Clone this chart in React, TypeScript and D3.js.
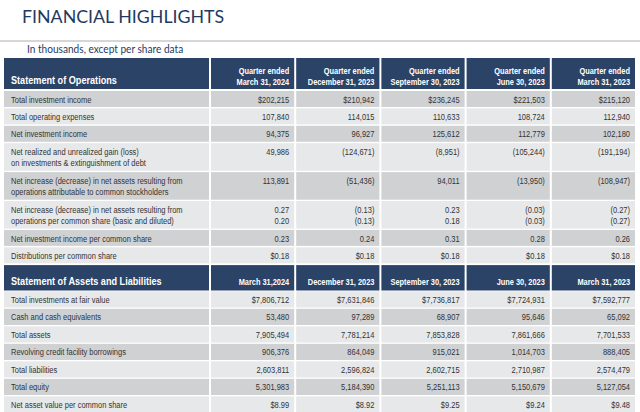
import React from "react";
import * as d3 from "d3";

const title = "FINANCIAL HIGHLIGHTS";
const subtitle = "In thousands, except per share data";

const opsHeader = "Statement of Operations";
const opsPeriods = ["March 31, 2024", "December 31, 2023", "September 30, 2023", "June 30, 2023", "March 31, 2023"];
const opsLabels: string[][] = [
  ["Total investment income"],
  ["Total operating expenses"],
  ["Net investment income"],
  ["Net realized and unrealized gain (loss)", "on investments & extinguishment of debt"],
  ["Net increase (decrease) in net assets resulting from", "operations attributable to common stockholders"],
  ["Net increase (decrease) in net assets resulting from", "operations per common share (basic and diluted)"],
  ["Net investment income per common share"],
  ["Distributions per common share"],
];
const opsValues: string[][][] = [
  [["$202,215"], ["$210,942"], ["$236,245"], ["$221,503"], ["$215,120"]],
  [["107,840"], ["114,015"], ["110,633"], ["108,724"], ["112,940"]],
  [["94,375"], ["96,927"], ["125,612"], ["112,779"], ["102,180"]],
  [["49,986"], ["(124,671)"], ["(8,951)"], ["(105,244)"], ["(191,194)"]],
  [["113,891"], ["(51,436)"], ["94,011"], ["(13,950)"], ["(108,947)"]],
  [["0.27", "0.20"], ["(0.13)", "(0.13)"], ["0.23", "0.18"], ["(0.03)", "(0.03)"], ["(0.27)", "(0.27)"]],
  [["0.23"], ["0.24"], ["0.31"], ["0.28"], ["0.26"]],
  [["$0.18"], ["$0.18"], ["$0.18"], ["$0.18"], ["$0.18"]],
];

const bsHeader = "Statement of Assets and Liabilities";
const bsPeriods = ["March 31,2024", "December 31, 2023", "September 30, 2023", "June 30, 2023", "March 31, 2023"];
const bsLabels: string[] = [
  "Total investments at fair value",
  "Cash and cash equivalents",
  "Total assets",
  "Revolving credit facility borrowings",
  "Total liabilities",
  "Total equity",
  "Net asset value per common share",
];
const bsValues: string[][] = [
  ["$7,806,712", "$7,631,846", "$7,736,817", "$7,724,931", "$7,592,777"],
  ["53,480", "97,289", "68,907", "95,646", "65,092"],
  ["7,905,494", "7,781,214", "7,853,828", "7,861,666", "7,701,533"],
  ["906,376", "864,049", "915,021", "1,014,703", "888,405"],
  ["2,603,811", "2,596,824", "2,602,715", "2,710,987", "2,574,479"],
  ["5,301,983", "5,184,390", "5,251,113", "5,150,679", "5,127,054"],
  ["$8.99", "$8.92", "$9.25", "$9.24", "$9.48"],
];

const W = 640;
const H = 412;
const NAVY = "#2b4366";
const DARK = "#d0d1d3";
const LIGHT = "#e7e8e9";
const TEXT = "#333333";
const FONT = "'Liberation Sans', Arial, sans-serif";
const TITLE_FONT = "Lato, 'Open Sans', sans-serif";

type TProps = {
  x: number;
  y: number;
  sx: number;
  size: number;
  anchor?: "start" | "end";
  bold?: boolean;
  fill: string;
  family?: string;
  children: React.ReactNode;
};

function T({ x, y, sx, size, anchor = "start", bold, fill, family = FONT, children }: TProps) {
  return (
    <text
      transform={`translate(${x},${y}) scale(${sx},1)`}
      fontSize={size}
      fontFamily={family}
      fontWeight={bold ? "bold" : "normal"}
      fill={fill}
      textAnchor={anchor}
    >
      {children}
    </text>
  );
}

export default function App() {
  const labelLeft = 4;
  const labelRight = 210;
  const tableRight = 636;
  const dataX = d3.scaleBand<number>().domain(d3.range(5)).range([labelRight, tableRight]).paddingInner(0);
  const colW = dataX.bandwidth();

  const singleH = 16;
  const singlePitch = 17.4;
  const doubleH = 27.6;
  const doublePitch = 28.9;
  const lineGap = 11.4;

  const BODY = 9.5;
  const BSX = 0.79;

  type Row = { y: number; h: number; kind: string; idx: number; shade: string };
  const rows: Row[] = [];
  let y = 58;
  const header1 = { y, h: 31 };
  y += 33;
  opsLabels.forEach((lab, i) => {
    const dbl = lab.length > 1;
    rows.push({ y, h: dbl ? doubleH : singleH, kind: "ops", idx: i, shade: i % 2 === 0 ? DARK : LIGHT });
    y += dbl ? doublePitch : singlePitch;
  });
  y += 0.4;
  const header2 = { y, h: 25.4 };
  y += 26.2;
  bsLabels.forEach((_, i) => {
    rows.push({ y, h: singleH + 0.2, kind: "bs", idx: i, shade: i % 2 === 0 ? LIGHT : DARK });
    y += 17.5;
  });

  const cellRects = (top: number, h: number, fill: string, key: string) => (
    <g key={key}>
      <rect x={labelLeft} y={top} width={labelRight - labelLeft - 1} height={h} fill={fill} />
      {d3.range(5).map((c) => (
        <rect key={c} x={(dataX(c) as number) + 1} y={top} width={colW - 2} height={h} fill={fill} />
      ))}
    </g>
  );

  const textRight = (c: number) => (dataX(c) as number) + colW - 6;

  return (
    <svg width={W} height={H} style={{ position: "absolute", left: 0, top: 0 }} fontFamily={FONT}>
      <rect x={0} y={0} width={W} height={H} fill="#ffffff" />
      <T x={22} y={23} sx={1} size={17.8} family={TITLE_FONT} fill="#1f3a5f">{title}</T>
      <rect x={0} y={40} width={W} height={2} fill="#d6d6d6" />
      <T x={27} y={53} sx={0.92} size={11} family={TITLE_FONT} fill="#1f3a5f">{subtitle}</T>

      {cellRects(header1.y, header1.h, NAVY, "h1")}
      <T x={11} y={84} sx={0.83} size={11} bold fill="#ffffff">{opsHeader}</T>
      {opsPeriods.map((p, c) => (
        <g key={"hp" + c}>
          <T x={textRight(c)} y={74} sx={0.78} size={BODY} bold fill="#ffffff" anchor="end">Quarter ended</T>
          <T x={textRight(c)} y={85} sx={0.78} size={BODY} bold fill="#ffffff" anchor="end">{p}</T>
        </g>
      ))}

      {cellRects(header2.y, header2.h, NAVY, "h2")}
      <T x={11} y={header2.y + 20} sx={0.83} size={11} bold fill="#ffffff">{bsHeader}</T>
      {bsPeriods.map((p, c) => (
        <T key={"bp" + c} x={textRight(c)} y={header2.y + 20} sx={0.78} size={BODY} bold fill="#ffffff" anchor="end">{p}</T>
      ))}

      {rows.map((r) => {
        const labels = r.kind === "ops" ? opsLabels[r.idx] : [bsLabels[r.idx]];
        const vals = r.kind === "ops" ? opsValues[r.idx] : bsValues[r.idx].map((v) => [v]);
        return (
          <g key={r.kind + r.idx}>
            {cellRects(r.y, r.h, r.shade, "c")}
            {labels.map((l, k) => (
              <T key={"l" + k} x={11} y={r.y + 11.6 + k * lineGap} sx={BSX} size={BODY} fill={TEXT}>{l}</T>
            ))}
            {vals.map((lines, c) =>
              lines.map((v, k) => (
                <T key={c + "-" + k} x={textRight(c)} y={r.y + 11.6 + k * lineGap} sx={BSX} size={BODY} fill={TEXT} anchor="end">{v}</T>
              ))
            )}
          </g>
        );
      })}
    </svg>
  );
}
